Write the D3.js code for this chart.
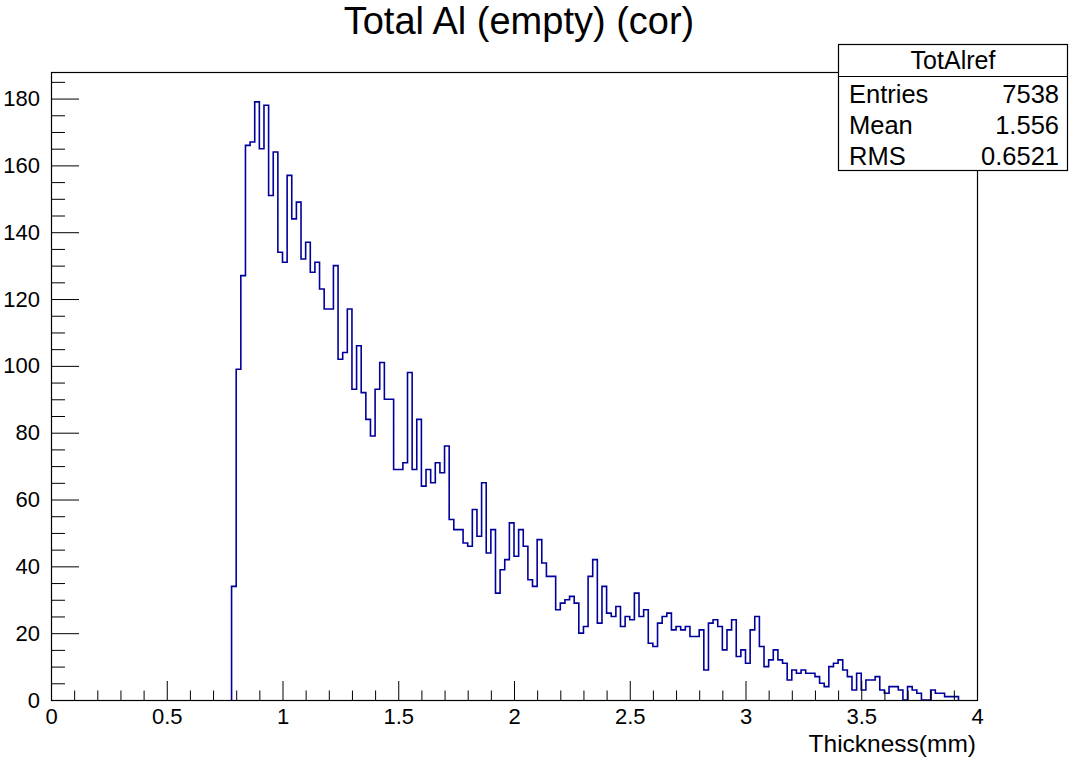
<!DOCTYPE html>
<html><head><meta charset="utf-8">
<script src="https://cdn.jsdelivr.net/npm/d3@7"></script>
<style>
body{margin:0;background:#fff;}
text{font-family:"Liberation Sans",Arial,Helvetica,sans-serif;fill:#000;}
</style>
</head><body>
<svg id="chart" width="1069" height="760"></svg>
<script>
// ---- data ----
const binStart = 0.78;
const binWidth = 0.02;
const counts = [
  34, 99,127,166,167,179,165,178,151,164,
 134,131,157,144,149,132,137,128,131,123,
 117,117,130,102,104,117, 93,106, 92, 84,
  79, 93,101, 90, 90, 69, 69, 71, 98, 69,
  84, 64, 69, 65, 71, 68, 76, 54, 51, 51,
  47, 46, 57, 49, 65, 44, 51, 32, 39, 42,
  53, 43, 51, 46, 36, 34, 48, 41, 37, 37,
  27, 29, 30, 31, 29, 20, 22, 37, 42, 23,
  34, 26, 25, 28, 22, 25, 24, 32, 25, 27,
  17, 16, 23, 25, 26, 21, 22, 21, 22, 19,
  19, 21,  9, 23, 24, 22, 15, 21, 24, 13,
  15, 11, 21, 25, 16, 10, 12, 15, 12, 11,
   6,  9,  8,  9,  8,  8,  7,  5,  4, 10,
  11, 12,  9,  7,  3,  8,  3,  6,  6,  7,
   3,  2,  4,  4,  3,  0,  4,  3,  2,  0,
   0,  3,  2,  2,  1,  1,  1
];
const xDomain = [0, 4];
const yMax = 187.95;
const xMajorTicks = [0, 0.5, 1, 1.5, 2, 2.5, 3, 3.5, 4];
const xTickLabels = ["0", "0.5", "1", "1.5", "2", "2.5", "3", "3.5", "4"];
const yMajorTicks = [0, 20, 40, 60, 80, 100, 120, 140, 160, 180];
const titleText = "Total Al (empty) (cor)";
const xTitleText = "Thickness(mm)";
const statsName = "TotAlref";
const statsLabels = ["Entries", "Mean", "RMS"];
const statsValues = ["7538", "1.556", "0.6521"];

// ---- layout ----
const L = 51, R = 977, T = 72, B = 700;
const svg = d3.select("#chart");
svg.append("rect").attr("width", 1069).attr("height", 760).attr("fill", "#fff");

const x = d3.scaleLinear().domain(xDomain).range([L, R]);
const y = d3.scaleLinear().domain([0, yMax]).range([B, T]);

// minor ticks
const xMinor = d3.range(0, 40).map(i => i / 10).filter(v => !xMajorTicks.some(m => Math.abs(m - v) < 1e-9));
const yMinor = d3.range(0, 38).map(i => i * 5).filter(v => v % 20 !== 0 && v <= yMax);

// histogram path
const bins = counts.map((c, i) => ({x0: binStart + i * binWidth, x1: binStart + (i + 1) * binWidth, c}));
let p = `M${x(bins[0].x0)},${y(0)}`;
bins.forEach(b => { p += `V${y(b.c)}H${x(b.x1)}`; });
p += `V${y(0)}`;
svg.append("path").attr("d", p).attr("fill", "none")
  .attr("stroke", "#00009a").attr("stroke-width", 1.6);

// axes
function styleAxis(g) {
  g.select(".domain").remove();
  g.selectAll("line").attr("stroke", "#000").attr("stroke-width", 1);
}
svg.append("g").attr("transform", `translate(0,${B})`)
  .call(d3.axisBottom(x).tickValues(xMinor).tickSize(-9.5).tickFormat(""))
  .call(styleAxis);
svg.append("g").attr("transform", `translate(0,${B})`)
  .call(d3.axisBottom(x).tickValues(xMajorTicks).tickSize(-19).tickPadding(8)
    .tickFormat((d, i) => xTickLabels[i]))
  .call(styleAxis)
  .call(g => g.selectAll("text").attr("font-size", 22).attr("font-family", "Liberation Sans"));
svg.append("g").attr("transform", `translate(${L},0)`)
  .call(d3.axisLeft(y).tickValues(yMinor).tickSize(-14).tickFormat(""))
  .call(styleAxis);
svg.append("g").attr("transform", `translate(${L},0)`)
  .call(d3.axisLeft(y).tickValues(yMajorTicks).tickSize(-28).tickPadding(11).tickFormat(d3.format("d")))
  .call(styleAxis)
  .call(g => g.selectAll("text").attr("font-size", 22).attr("font-family", "Liberation Sans"));

// frame
svg.append("rect").attr("x", L + 0.5).attr("y", T + 0.5).attr("width", R - L).attr("height", B - T)
  .attr("fill", "none").attr("stroke", "#000").attr("stroke-width", 1.2);

// title
svg.append("text").attr("x", 519).attr("y", 34).attr("text-anchor", "middle")
  .attr("font-size", 38).text(titleText);

// axis title
svg.append("text").attr("x", R - 1).attr("y", 752).attr("text-anchor", "end")
  .attr("font-size", 24.5).text(xTitleText);

// stats box
const sb = {x: 838.5, y: 44.5, w: 229, h: 126};
svg.append("rect").attr("x", sb.x).attr("y", sb.y).attr("width", sb.w).attr("height", sb.h)
  .attr("fill", "#fff").attr("stroke", "#000").attr("stroke-width", 1.2);
svg.append("line").attr("x1", sb.x).attr("x2", sb.x + sb.w).attr("y1", 76.5).attr("y2", 76.5)
  .attr("stroke", "#000").attr("stroke-width", 1.2);
svg.append("text").attr("x", sb.x + sb.w / 2).attr("y", 69).attr("text-anchor", "middle")
  .attr("font-size", 25).text(statsName);
statsLabels.forEach((lab, i) => {
  const yy = 103 + i * 31;
  svg.append("text").attr("x", 849).attr("y", yy).attr("font-size", 25.5).text(lab);
  svg.append("text").attr("x", 1059).attr("y", yy).attr("text-anchor", "end").attr("font-size", 25.5).text(statsValues[i]);
});
</script>
</body></html>
